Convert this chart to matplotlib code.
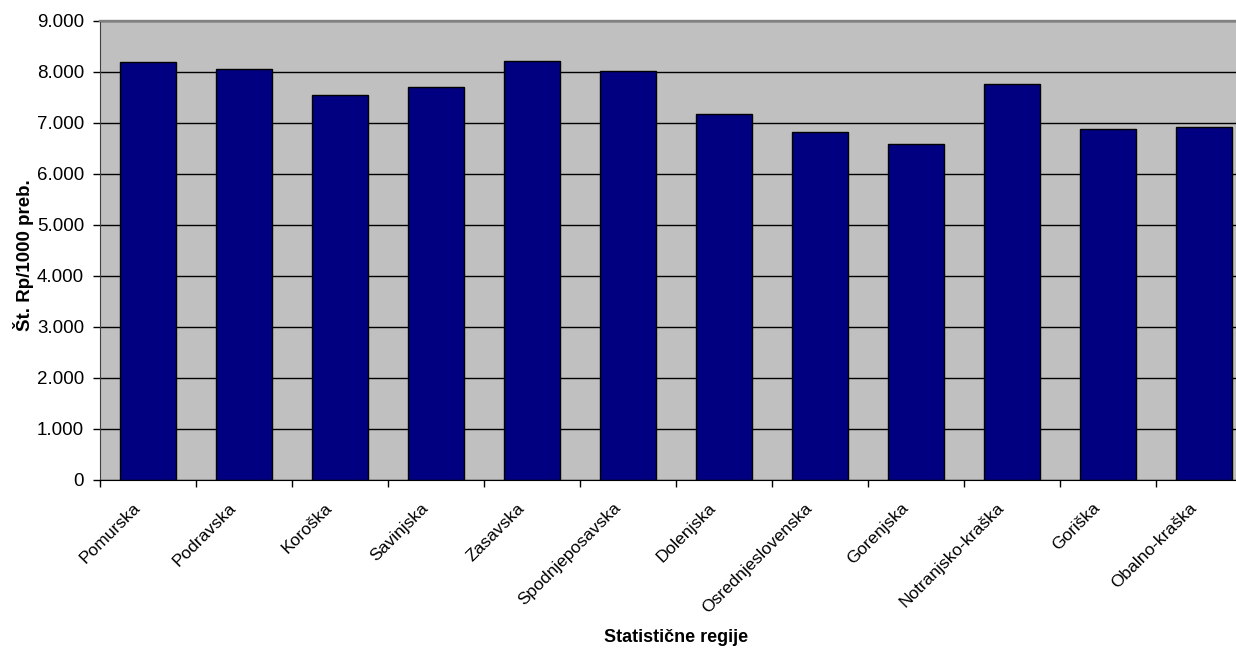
import numpy as np
import matplotlib
matplotlib.use("Agg")
import matplotlib.pyplot as plt
from matplotlib.ticker import FuncFormatter

### Data

regions = ["Pomurska", "Podravska", "Koroška", "Savinjska", "Zasavska",
           "Spodnjeposavska", "Dolenjska", "Osrednjeslovenska", "Gorenjska",
           "Notranjsko-kraška", "Goriška", "Obalno-kraška"]
rp_per_1000 = [8186, 8060, 7540, 7700, 8200, 8020,
               7170, 6810, 6580, 7760, 6880, 6910]
y_ticks = [0, 1000, 2000, 3000, 4000, 5000, 6000, 7000, 8000, 9000]

### End Data

plt.rcParams['font.family'] = ['Liberation Sans', 'DejaVu Sans']

fig = plt.figure(figsize=(12.36, 6.5), dpi=100)
# plot area runs past the right edge of the picture, like the original
ax = fig.add_axes([100/1236, 1 - 479.5/650, 1152/1236, 458.8/650])
ax.set_facecolor('#C0C0C0')

x = np.arange(len(regions))
ax.bar(x, rp_per_1000, width=0.59, color='#000080', edgecolor='black', linewidth=1, zorder=3)

ax.set_xlim(-0.5, len(regions) - 0.5)
ax.set_ylim(0, 9000)
ax.set_yticks(y_ticks)
ax.yaxis.set_major_formatter(FuncFormatter(lambda v, p: f"{int(v):,}".replace(",", ".")))
ax.grid(axis='y', color='black', linewidth=1, zorder=1)
ax.set_axisbelow(True)

# ticks at category boundaries; labels hang a little left of the bar centre
ax.set_xticks(np.arange(len(regions) + 1) - 0.5)
ax.set_xticklabels([])
ax.set_xticks(x - 0.16, minor=True)
ax.set_xticklabels(regions, minor=True, rotation=45, ha='right', va='top',
                   rotation_mode='anchor', fontsize=12.5)
ax.tick_params(axis='x', which='minor', length=0, pad=15)
ax.tick_params(axis='x', which='major', length=5, width=1, color='black', direction='out')
ax.tick_params(axis='y', length=5, width=1, color='black', direction='out', labelsize=13.5, pad=6.5)

for side in ['top', 'right']:
    ax.spines[side].set_color('#808080')
    ax.spines[side].set_linewidth(1.7)
ax.spines['bottom'].set_color('black')
ax.spines['left'].set_color('#404040')

ax.set_ylabel("Št. Rp/1000 preb.", fontsize=13.5, fontweight='bold', va='center')
ax.yaxis.set_label_coords(-76/1152, 0.49)
ax.set_xlabel("Statistične regije", fontsize=13, fontweight='bold', va='center')
ax.xaxis.set_label_coords(0.5, -158.5/458.8)

plt.savefig('out.png', dpi=100)
